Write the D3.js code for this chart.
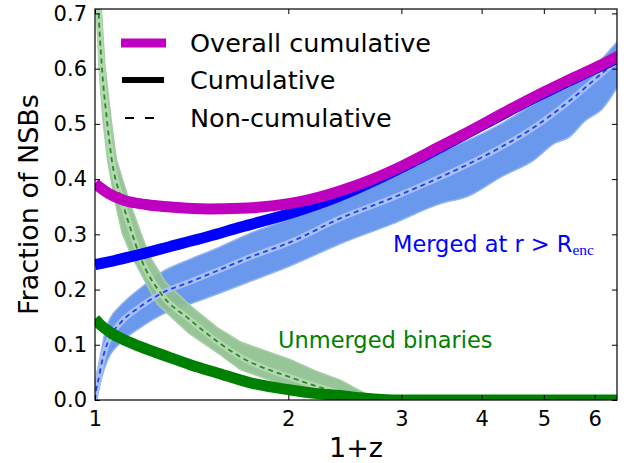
<!DOCTYPE html>
<html><head><meta charset="utf-8">
<script src="https://cdn.jsdelivr.net/npm/d3@7"></script>
<style>body{margin:0;background:#fff} text{font-family:"DejaVu Sans",sans-serif}</style>
</head><body><svg id="c" width="630" height="463"></svg>
<script>
// ---- data ----
const xTicks = [1, 2, 3, 4, 5, 6];
const yTicks = [0.0, 0.1, 0.2, 0.3, 0.4, 0.5, 0.6, 0.7];
const xDomain = [1, 6.5];
const yDomain = [0, 0.708];

// Overall cumulative (magenta)
const overallZ = [1.0, 1.05, 1.107, 1.2, 1.326, 1.5, 1.685, 1.9, 2.14, 2.4, 2.72, 3.0, 3.46, 3.81, 4.3, 4.83, 5.46, 6.15, 6.54];
const overallF = [0.392, 0.374, 0.362, 0.354, 0.349, 0.346, 0.347, 0.352, 0.362, 0.378, 0.401, 0.423, 0.460, 0.485, 0.518, 0.549, 0.579, 0.607, 0.623];

// Cumulative merged (blue)
const mergedZ = [1.0, 1.05, 1.15, 1.31, 1.5, 1.685, 2.016, 2.41, 2.72, 3.0, 3.46, 4.83, 6.54];
const mergedF = [0.245, 0.250, 0.261, 0.278, 0.296, 0.313, 0.338, 0.370, 0.397, 0.421, 0.458, 0.547, 0.620];

// Cumulative unmerged (green)
const unmergedZ = [1.0, 1.02, 1.055, 1.1, 1.176, 1.3, 1.407, 1.55, 1.746, 2.016, 2.2, 2.41, 2.6, 2.8, 3.0, 6.54];
const unmergedF = [0.147, 0.136, 0.123, 0.111, 0.0966, 0.078, 0.064, 0.049, 0.031, 0.018, 0.012, 0.008, 0.004, 0.001, 0.0, 0.0];

// Non-cumulative merged: mean and spread of realisations (blue band)
const mergedMeanZ = [1.0, 1.006, 1.012, 1.024, 1.037, 1.055, 1.094, 1.176, 1.268, 1.407, 1.55, 1.746, 2.016, 2.41, 2.89, 3.46, 3.81, 4.29, 4.83, 5.46, 6.15, 6.54];
const mergedMeanF = [0.0, 0.024, 0.036, 0.067, 0.091, 0.114, 0.139, 0.169, 0.193, 0.214, 0.234, 0.259, 0.286, 0.329, 0.365, 0.404, 0.427, 0.458, 0.494, 0.540, 0.591, 0.617];
const mergedBandZ = [1.0, 1.006, 1.012, 1.024, 1.037, 1.055, 1.094, 1.176, 1.268, 1.407, 1.55, 1.746, 2.016, 2.41, 2.89, 3.46, 3.81, 4.29, 4.83, 5.2, 5.46, 5.8, 6.15, 6.54];
const mergedBandLo = [0.0, 0.005, 0.015, 0.040, 0.061, 0.081, 0.103, 0.131, 0.154, 0.174, 0.192, 0.215, 0.243, 0.283, 0.318, 0.356, 0.369, 0.404, 0.435, 0.465, 0.475, 0.506, 0.526, 0.571];
const mergedBandHi = [0.0, 0.045, 0.061, 0.091, 0.123, 0.147, 0.170, 0.202, 0.231, 0.255, 0.275, 0.302, 0.329, 0.371, 0.409, 0.450, 0.470, 0.500, 0.536, 0.556, 0.566, 0.591, 0.617, 0.652];

// Non-cumulative unmerged: mean and spread edges (green band)
const unmergedMeanZ = [1.005, 1.0127, 1.0244, 1.044, 1.062, 1.101, 1.141, 1.176, 1.268, 1.407, 1.55, 1.685, 2.016, 2.2, 2.41, 2.6, 2.75];
const unmergedMeanF = [0.83, 0.708, 0.607, 0.506, 0.435, 0.362, 0.303, 0.259, 0.192, 0.145, 0.106, 0.078, 0.041, 0.026, 0.0126, 0.004, 0.0];
const unmergedUpperZ = [1.018, 1.023, 1.036, 1.060, 1.080, 1.128, 1.178, 1.218, 1.29, 1.42, 1.55, 1.685, 2.016, 2.2, 2.41, 2.66, 2.77];
const unmergedUpperF = [0.76, 0.708, 0.607, 0.506, 0.435, 0.364, 0.303, 0.259, 0.212, 0.167, 0.131, 0.105, 0.073, 0.053, 0.036, 0.009, 0.0];
const unmergedLowerZ = [1.003, 1.006, 1.014, 1.029, 1.046, 1.072, 1.102, 1.142, 1.25, 1.40, 1.55, 1.685, 2.016, 2.2, 2.41, 2.6, 2.77];
const unmergedLowerF = [0.76, 0.708, 0.607, 0.506, 0.435, 0.364, 0.303, 0.259, 0.174, 0.121, 0.086, 0.055, 0.023, 0.012, 0.005, 0.0, 0.0];

const legendLabels = ["Overall cumulative", "Cumulative", "Non-cumulative"];

// ---- drawing ----
const W = 630, H = 463;
const m = {left: 95, right: 13, top: 9, bottom: 63};
const iw = W - m.left - m.right, ih = H - m.top - m.bottom;
const svg = d3.select("#c");
const x = d3.scaleLog().domain(xDomain).range([0, iw]);
const y = d3.scaleLinear().domain(yDomain).range([ih, 0]);
const g = svg.append("g").attr("transform", `translate(${m.left},${m.top})`);

g.append("clipPath").attr("id", "clip").append("rect").attr("width", iw).attr("height", ih);
const plot = g.append("g").attr("clip-path", "url(#clip)");

const zip = (a, b) => a.map((v, i) => [v, b[i]]);
const line = d3.line().x(d => x(d[0])).y(d => y(d[1])).curve(d3.curveMonotoneX);

// blue band
const area = d3.area().x(d => x(d[0])).y0(d => y(d[1])).y1(d => y(d[2])).curve(d3.curveMonotoneX);
plot.append("path")
  .datum(mergedBandZ.map((z, i) => [z, mergedBandLo[i], mergedBandHi[i]]))
  .attr("d", area).attr("fill", "#6a98ec").attr("stroke", "#90b2f1").attr("stroke-width", 1.5);

// green band polygon
const poly = zip(unmergedUpperZ, unmergedUpperF).concat(zip(unmergedLowerZ, unmergedLowerF).reverse());
plot.append("path")
  .datum(poly)
  .attr("d", d3.line().x(d => x(d[0])).y(d => y(d[1])).curve(d3.curveLinearClosed))
  .attr("fill", "#8fc08f").attr("fill-opacity", 0.92).attr("stroke", "#a6cda6").attr("stroke-width", 1.5).attr("stroke-linejoin", "round");

// light stripes along means
plot.append("path").datum(zip(mergedMeanZ, mergedMeanF)).attr("d", line)
  .attr("fill", "none").attr("stroke", "#a5c1f3").attr("stroke-width", 6);
plot.append("path").datum(zip(unmergedMeanZ, unmergedMeanF)).attr("d", line)
  .attr("fill", "none").attr("stroke", "#b4d6b0").attr("stroke-width", 6);

// dashed means
plot.append("path").datum(zip(mergedMeanZ, mergedMeanF)).attr("d", line)
  .attr("fill", "none").attr("stroke", "#2a3cf0").attr("stroke-width", 1.8).attr("stroke-dasharray", "5,4");
plot.append("path").datum(zip(unmergedMeanZ, unmergedMeanF)).attr("d", line)
  .attr("fill", "none").attr("stroke", "#1f8f1f").attr("stroke-width", 1.8).attr("stroke-dasharray", "5,4");

// thick cumulative lines
plot.append("path").datum(zip(unmergedZ, unmergedF)).attr("d", line)
  .attr("fill", "none").attr("stroke", "#008000").attr("stroke-width", 11);
plot.append("path").datum(zip(mergedZ, mergedF)).attr("d", line)
  .attr("fill", "none").attr("stroke", "#0000ff").attr("stroke-width", 11);
plot.append("path").datum(zip(overallZ, overallF)).attr("d", line)
  .attr("fill", "none").attr("stroke", "#bf00bf").attr("stroke-width", 11);

// axes
const tickFont = 21;
const ax = [
  [d3.axisBottom(x).tickValues(xTicks).tickFormat(d3.format("d")).tickSizeInner(-5).tickSizeOuter(0).tickPadding(11), `translate(0,${ih})`],
  [d3.axisTop(x).tickValues(xTicks).tickFormat("").tickSizeInner(-5).tickSizeOuter(0), `translate(0,0)`],
  [d3.axisLeft(y).tickValues(yTicks).tickFormat(d3.format(".1f")).tickSizeInner(-5).tickSizeOuter(0).tickPadding(8), `translate(0,0)`],
  [d3.axisRight(y).tickValues(yTicks).tickFormat("").tickSizeInner(-5).tickSizeOuter(0), `translate(${iw},0)`]
];
ax.forEach(([a, t]) => {
  const s = g.append("g").attr("transform", t).call(a);
  s.select(".domain").remove();
  s.selectAll("line").attr("stroke", "#000").attr("stroke-width", 1);
  s.selectAll("text").attr("font-size", tickFont).attr("fill", "#000").attr("font-family", "DejaVu Sans");
});
g.append("rect").attr("width", iw).attr("height", ih).attr("fill", "none").attr("stroke", "#000").attr("stroke-width", 1.2);

// axis labels
svg.append("text").attr("x", m.left + iw / 2).attr("y", 457).attr("text-anchor", "middle")
  .attr("font-size", 27).text("1+z");
svg.append("text").attr("transform", `translate(38,${m.top + ih / 2}) rotate(-90)`).attr("text-anchor", "middle")
  .attr("font-size", 27).text("Fraction of NSBs");

// legend
const leg = svg.append("g");
const legY = [43, 80, 118];
leg.append("line").attr("x1", 121).attr("x2", 166).attr("y1", legY[0]).attr("y2", legY[0]).attr("stroke", "#bf00bf").attr("stroke-width", 9);
leg.append("line").attr("x1", 122).attr("x2", 164).attr("y1", legY[1]).attr("y2", legY[1]).attr("stroke", "#000").attr("stroke-width", 6);
leg.append("line").attr("x1", 125).attr("x2", 160).attr("y1", legY[2]).attr("y2", legY[2]).attr("stroke", "#000").attr("stroke-width", 2).attr("stroke-dasharray", "9,11");
legendLabels.forEach((t, i) => {
  leg.append("text").attr("x", 190).attr("y", legY[i]).attr("dy", "0.36em").attr("font-size", 25.5).text(t);
});

// annotations
const a1 = svg.append("text").attr("x", 393).attr("y", 252).attr("font-size", 22.5).attr("fill", "#0000ff");
a1.append("tspan").text("Merged at r > R");
a1.append("tspan").attr("font-family", "Liberation Serif").attr("font-size", 15.5).attr("dy", 3).text("enc");
svg.append("text").attr("x", 278).attr("y", 348).attr("font-size", 22.5).attr("fill", "#008000").text("Unmerged binaries");
</script></body></html>
